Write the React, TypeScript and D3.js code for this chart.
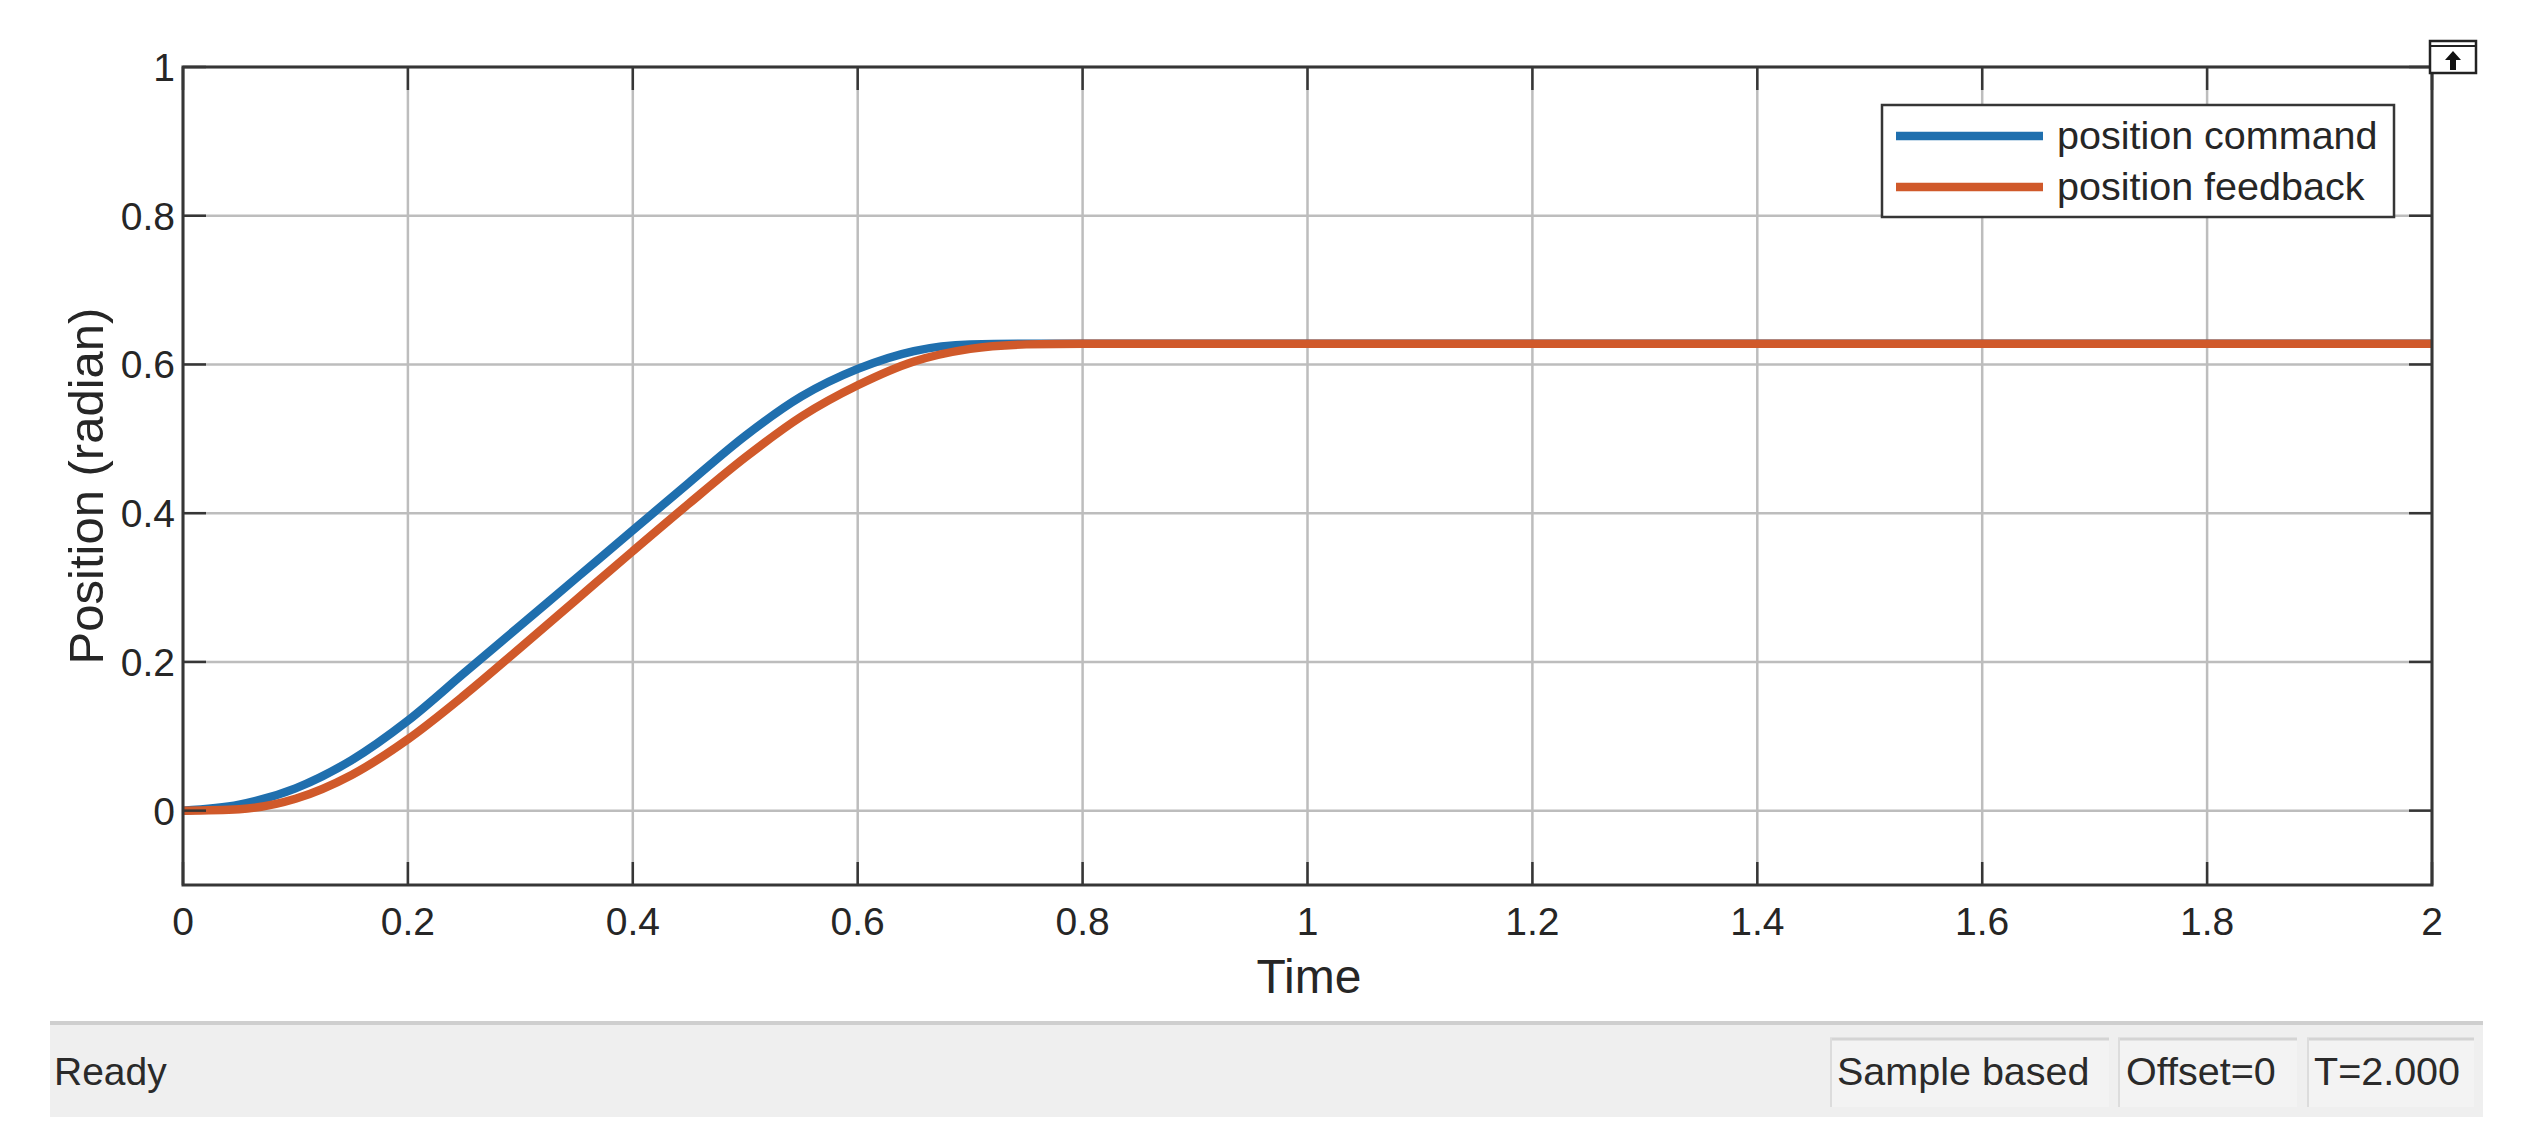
import React from "react";
import * as d3 from "d3";

// ---- data ----
const time = [0, 0.05, 0.1, 0.15, 0.2, 0.25, 0.3, 0.35, 0.4, 0.45, 0.5, 0.55, 0.6, 0.65, 0.7, 0.75, 0.8, 1.0, 1.5, 2.0];
const positionCommand = [0, 0.008, 0.03, 0.068, 0.121, 0.185, 0.249, 0.313, 0.377, 0.441, 0.504, 0.557, 0.594, 0.618, 0.627, 0.628, 0.628, 0.628, 0.628, 0.628];
const positionFeedback = [0, 0.002, 0.016, 0.048, 0.096, 0.155, 0.219, 0.284, 0.349, 0.413, 0.475, 0.53, 0.572, 0.604, 0.621, 0.627, 0.628, 0.628, 0.628, 0.628];
const xTicks = [0, 0.2, 0.4, 0.6, 0.8, 1, 1.2, 1.4, 1.6, 1.8, 2];
const yTicks = [0, 0.2, 0.4, 0.6, 0.8, 1];
const seriesNames = ["position command", "position feedback"];
const statusLeft = "Ready";
const statusPanels = ["Sample based", "Offset=0", "T=2.000"];

const W = 2534;
const H = 1148;
const FONT = "'Liberation Sans', Arial, Helvetica, sans-serif";
const AX = "#363636";
const GRID = "#bdbdbd";
const TXT = "#262626";
const COLORS = ["#1f6fae", "#d0592a"];

export default function App() {
  const x = d3.scaleLinear().domain([0, 2]).range([183, 2432]);
  const y = d3.scaleLinear().domain([-0.1, 1]).range([885, 67]);
  const [x0, x1] = x.range();
  const [yb, yt] = y.range();
  const line = d3
    .line<number>()
    .x((_, i) => x(time[i]))
    .y((d) => y(d))
    .curve(d3.curveMonotoneX);
  const fmt = (v: number) => String(+v.toFixed(1));
  const tickLen = 23;

  const panelBoxes = [
    { x: 1830, w: 279, tx: 1837 },
    { x: 2118, w: 179, tx: 2126 },
    { x: 2307, w: 167, tx: 2314 },
  ];

  return (
    <svg
      width={W}
      height={H}
      style={{ position: "absolute", left: 0, top: 0, background: "#fff", display: "block" }}
      fontFamily={FONT}
    >
      <rect x={0} y={0} width={W} height={H} fill="#fff" />
      {/* grid */}
      <g stroke={GRID} strokeWidth={2.5}>
        {xTicks.map((t) => (
          <line key={"gx" + t} x1={x(t)} x2={x(t)} y1={yt} y2={yb} />
        ))}
        {yTicks.map((t) => (
          <line key={"gy" + t} x1={x0} x2={x1} y1={y(t)} y2={y(t)} />
        ))}
      </g>
      {/* series */}
      <path d={line(positionCommand) || ""} fill="none" stroke={COLORS[0]} strokeWidth={8.5} strokeLinejoin="round" />
      <path d={line(positionFeedback) || ""} fill="none" stroke={COLORS[1]} strokeWidth={8.5} strokeLinejoin="round" />
      {/* ticks */}
      <g stroke={AX} strokeWidth={2.5}>
        {xTicks.map((t) => (
          <g key={"tx" + t}>
            <line x1={x(t)} x2={x(t)} y1={yb} y2={yb - tickLen} />
            <line x1={x(t)} x2={x(t)} y1={yt} y2={yt + tickLen} />
          </g>
        ))}
        {yTicks.map((t) => (
          <g key={"ty" + t}>
            <line x1={x0} x2={x0 + tickLen} y1={y(t)} y2={y(t)} />
            <line x1={x1} x2={x1 - tickLen} y1={y(t)} y2={y(t)} />
          </g>
        ))}
      </g>
      {/* axes box */}
      <rect x={x0} y={yt} width={x1 - x0} height={yb - yt} fill="none" stroke={AX} strokeWidth={3} />
      {/* tick labels */}
      <g fill={TXT} fontSize={39}>
        {xTicks.map((t) => (
          <text key={"lx" + t} x={x(t)} y={935} textAnchor="middle">
            {fmt(t)}
          </text>
        ))}
        {yTicks.map((t) => (
          <text key={"ly" + t} x={175} y={y(t) + 14} textAnchor="end">
            {fmt(t)}
          </text>
        ))}
      </g>
      {/* axis labels */}
      <text x={1309} y={993} textAnchor="middle" fontSize={48} fill={TXT}>
        Time
      </text>
      <text transform="translate(103,486) rotate(-90)" textAnchor="middle" fontSize={49} fill={TXT}>
        Position (radian)
      </text>
      {/* legend */}
      <rect x={1882} y={105} width={512} height={112} fill="#fff" stroke={AX} strokeWidth={2.5} />
      {seriesNames.map((n, i) => (
        <g key={n}>
          <line x1={1896} x2={2043} y1={136 + i * 51} y2={136 + i * 51} stroke={COLORS[i]} strokeWidth={8.5} />
          <text x={2057} y={136 + i * 51 + 13} fontSize={39.5} fill={TXT}>
            {n}
          </text>
        </g>
      ))}
      {/* undock button */}
      <g>
        <rect x={2430} y={41} width={46} height={32} fill="#fff" stroke="#222" strokeWidth={2.5} />
        <line x1={2430} x2={2476} y1={46} y2={46} stroke="#222" strokeWidth={2} />
        <path d="M2453,51 L2461,60 L2456,60 L2456,70 L2450,70 L2450,60 L2445,60 Z" fill="#111" />
      </g>
      {/* status bar */}
      <rect x={50} y={1022} width={2433} height={95} fill="#efefef" />
      <rect x={50} y={1021} width={2433} height={4} fill="#cfcfcf" />
      <text x={54} y={1085} fontSize={39} fill="#2a2a2a">
        {statusLeft}
      </text>
      {statusPanels.map((p, i) => (
        <g key={p}>
          <rect x={panelBoxes[i].x} y={1038} width={panelBoxes[i].w} height={69} fill="#f3f3f3" />
          <line x1={panelBoxes[i].x} x2={panelBoxes[i].x + panelBoxes[i].w} y1={1039} y2={1039} stroke="#d4d4d4" strokeWidth={3} />
          <line x1={panelBoxes[i].x + 1} x2={panelBoxes[i].x + 1} y1={1038} y2={1107} stroke="#dcdcdc" strokeWidth={2} />
          <text x={panelBoxes[i].tx} y={1085} fontSize={39.5} fill="#2a2a2a">
            {p}
          </text>
        </g>
      ))}
    </svg>
  );
}
